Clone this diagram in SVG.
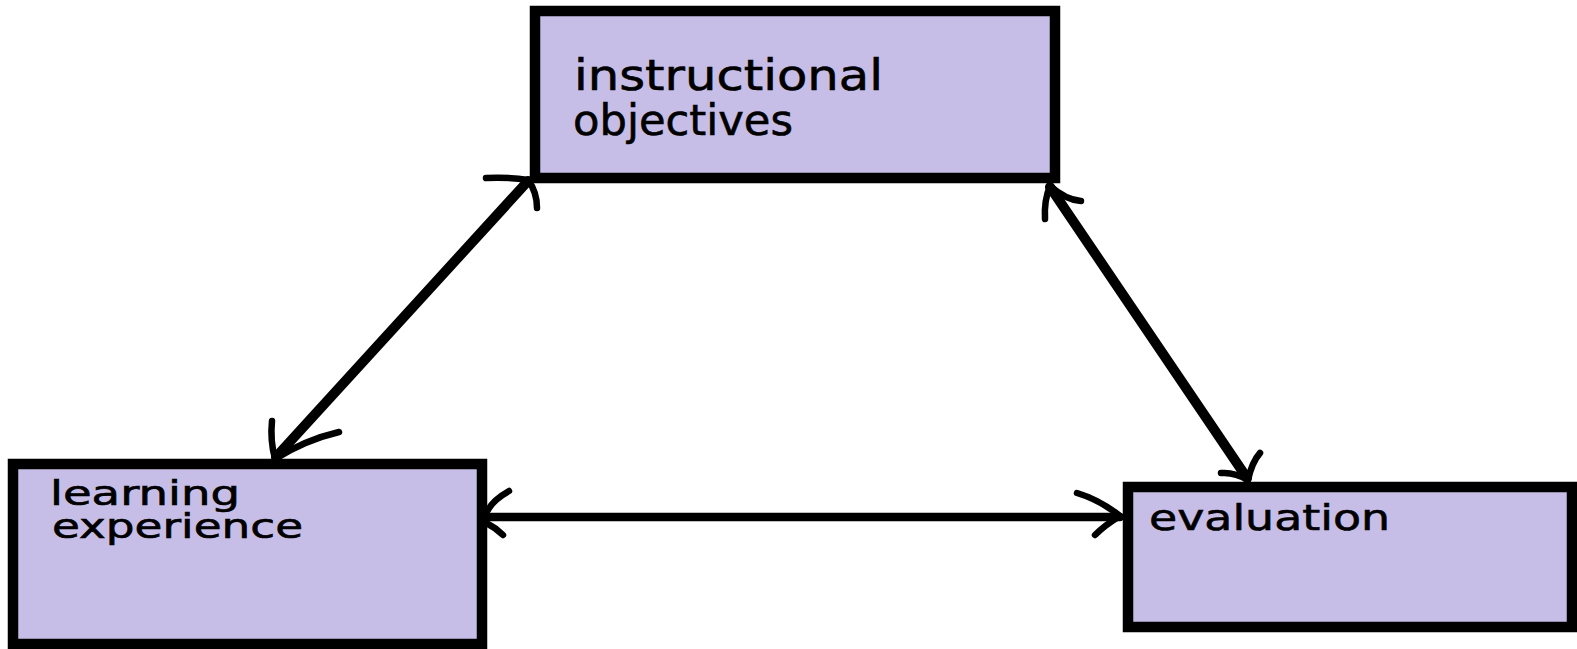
<svg xmlns="http://www.w3.org/2000/svg" width="1577" height="649" viewBox="0 0 1577 649">
<style>
.box{fill:#C6BEE6;stroke:#000;stroke-width:10.5}
.lbl{font-family:"DejaVu Sans","Liberation Sans",sans-serif;fill:#000;stroke:#000;stroke-width:0.6}
.ln{fill:none;stroke:#000;stroke-width:10;stroke-linecap:round}
.bb{fill:none;stroke:#000;stroke-width:6.5;stroke-linecap:round;stroke-linejoin:round}
</style>
<rect width="1577" height="649" fill="#fff"/>
<g id="connectors">
  <g id="c-obj-learn">
    <path class="ln" d="M528,181 L276,457"/>
    <path class="bb" d="M486,178 Q510,177 528,180 Q537,192 537,208"/>
    <path class="bb" d="M272,421 Q270,440 275,459 Q305,440 339,432"/>
  </g>
  <g id="c-obj-eval">
    <path class="ln" d="M1050,187 L1247,478"/>
    <path class="bb" d="M1045,219 Q1044,200 1050,186 Q1066,200 1081,201"/>
    <path class="bb" d="M1260,453 Q1252,462 1248,480 Q1235,472 1221,473"/>
  </g>
  <g id="c-learn-eval">
    <path class="ln" style="stroke-width:8.5" d="M488,517 L1120,517"/>
    <path class="bb" d="M509,491 Q493,500 488,510 M488,524 Q496,528 503,535"/>
    <path class="bb" d="M1077,493 Q1100,500 1120,516 Q1105,525 1095,535"/>
  </g>
</g>
<g id="node-objectives">
  <rect class="box" x="535" y="11" width="520" height="167"/>
  <text class="lbl" x="574" y="90" font-size="42" textLength="309" lengthAdjust="spacingAndGlyphs">instructional</text>
  <text class="lbl" x="573" y="135" font-size="42" textLength="220" lengthAdjust="spacingAndGlyphs">objectives</text>
</g>
<g id="node-learning">
  <rect class="box" x="13" y="464" width="469" height="180"/>
  <text class="lbl" x="50" y="505" font-size="33" textLength="190" lengthAdjust="spacingAndGlyphs">learning</text>
  <text class="lbl" x="52" y="538" font-size="33" textLength="251" lengthAdjust="spacingAndGlyphs">experience</text>
</g>
<g id="node-evaluation">
  <rect class="box" x="1128" y="487" width="444" height="140"/>
  <text class="lbl" x="1149" y="530" font-size="35" textLength="241" lengthAdjust="spacingAndGlyphs">evaluation</text>
</g>
</svg>
